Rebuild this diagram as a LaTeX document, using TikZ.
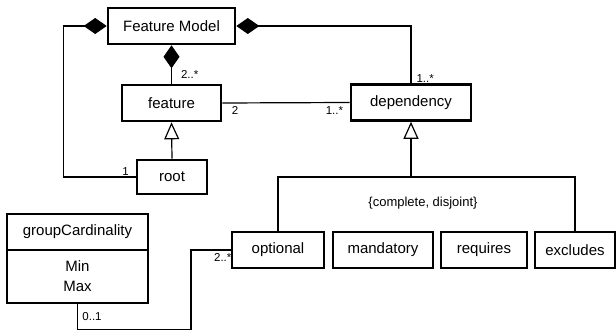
\documentclass[tikz,border=0pt]{standalone}
\usepackage{fontspec}
\setmainfont{Liberation Sans}
\usetikzlibrary{arrows.meta}
\usetikzlibrary{positioning}
\tikzset{
	umlbox/.style={draw, line width=2.6pt, inner sep=0pt, minimum height=36pt, font=\fontsize{15}{17}\selectfont},
	mult/.style={font=\fontsize{11.5}{13}\selectfont, inner sep=1pt},
	comp/.style={{Diamond[fill=black, length=23pt, width=16pt]}-},
	gen/.style={-{Triangle[open, fill=white, length=17pt, width=15pt]}}
}
\begin{document}
\begin{tikzpicture}[x=1pt, y=-1pt, line width=1.2pt]
				\useasboundingbox (0,0) rectangle (616,331);
				%classes
				\node[umlbox, minimum width=127pt] (fm) at (171.5,26) {Feature Model};
				\node[umlbox, minimum width=99pt] (feat) at (171.5,103) {feature};
				\node[umlbox, minimum width=120pt] (dep) at (411,102.5) {dependency};
				\node[umlbox, minimum width=70pt, minimum height=34pt] (root) at (172,177) {root};
				\node[umlbox, minimum width=92pt] (opt) at (278,250) {optional};
				\node[umlbox, minimum width=100pt] (mand) at (383,250) {mandatory};
				\node[umlbox, minimum width=86pt] (req) at (484,250) {requires};
				\node[umlbox, minimum width=80pt] (excl) at (575,250) {excludes};
				\node[umlbox, minimum width=141pt] (gc) at (77.5,232) {groupCardinality};
				\node[umlbox, minimum width=141pt, minimum height=53pt, align=center, font=\fontsize{15}{20}\selectfont] (gcattr) at (77.5,276.5) {Min\\Max};
				
				% compositions
				\draw[comp] (fm.west) -- ++(-43,0) |- (root.west) node[pos=.93, above, mult] {1};
				\draw[comp] (fm.east) -| (dep.north) node[pos=.96, right=4pt, mult] {1..*};
				\draw[comp] (fm.south) -- (feat.north) node[pos=.75, right=8pt, mult] {2..*};
				
				% association
				\draw (feat.east) -- (dep.west) node[pos=.1, below=2pt, mult] {2} node[pos=.88, below=2pt, mult] {1..*};
				\draw (gcattr.south) -- ++(0,25.5) -- ++(113.5,0) |- (opt.west) node[pos=.9, below=2pt, mult] {2..*};
				\node[mult] (gcmult) at (92,317) {0..1};
				
				% generalisation
				\draw[gen] (root.north) -- (feat.south);
				\coordinate (split) at (411,177);
				\draw (opt.north) |- (split) -| (excl.north);
				\draw[gen] (split) -- (dep.south);
				\node[font=\fontsize{13}{15}\selectfont] (constr) at (423,203) {\{complete, disjoint\}};
			\end{tikzpicture}
\end{document}
